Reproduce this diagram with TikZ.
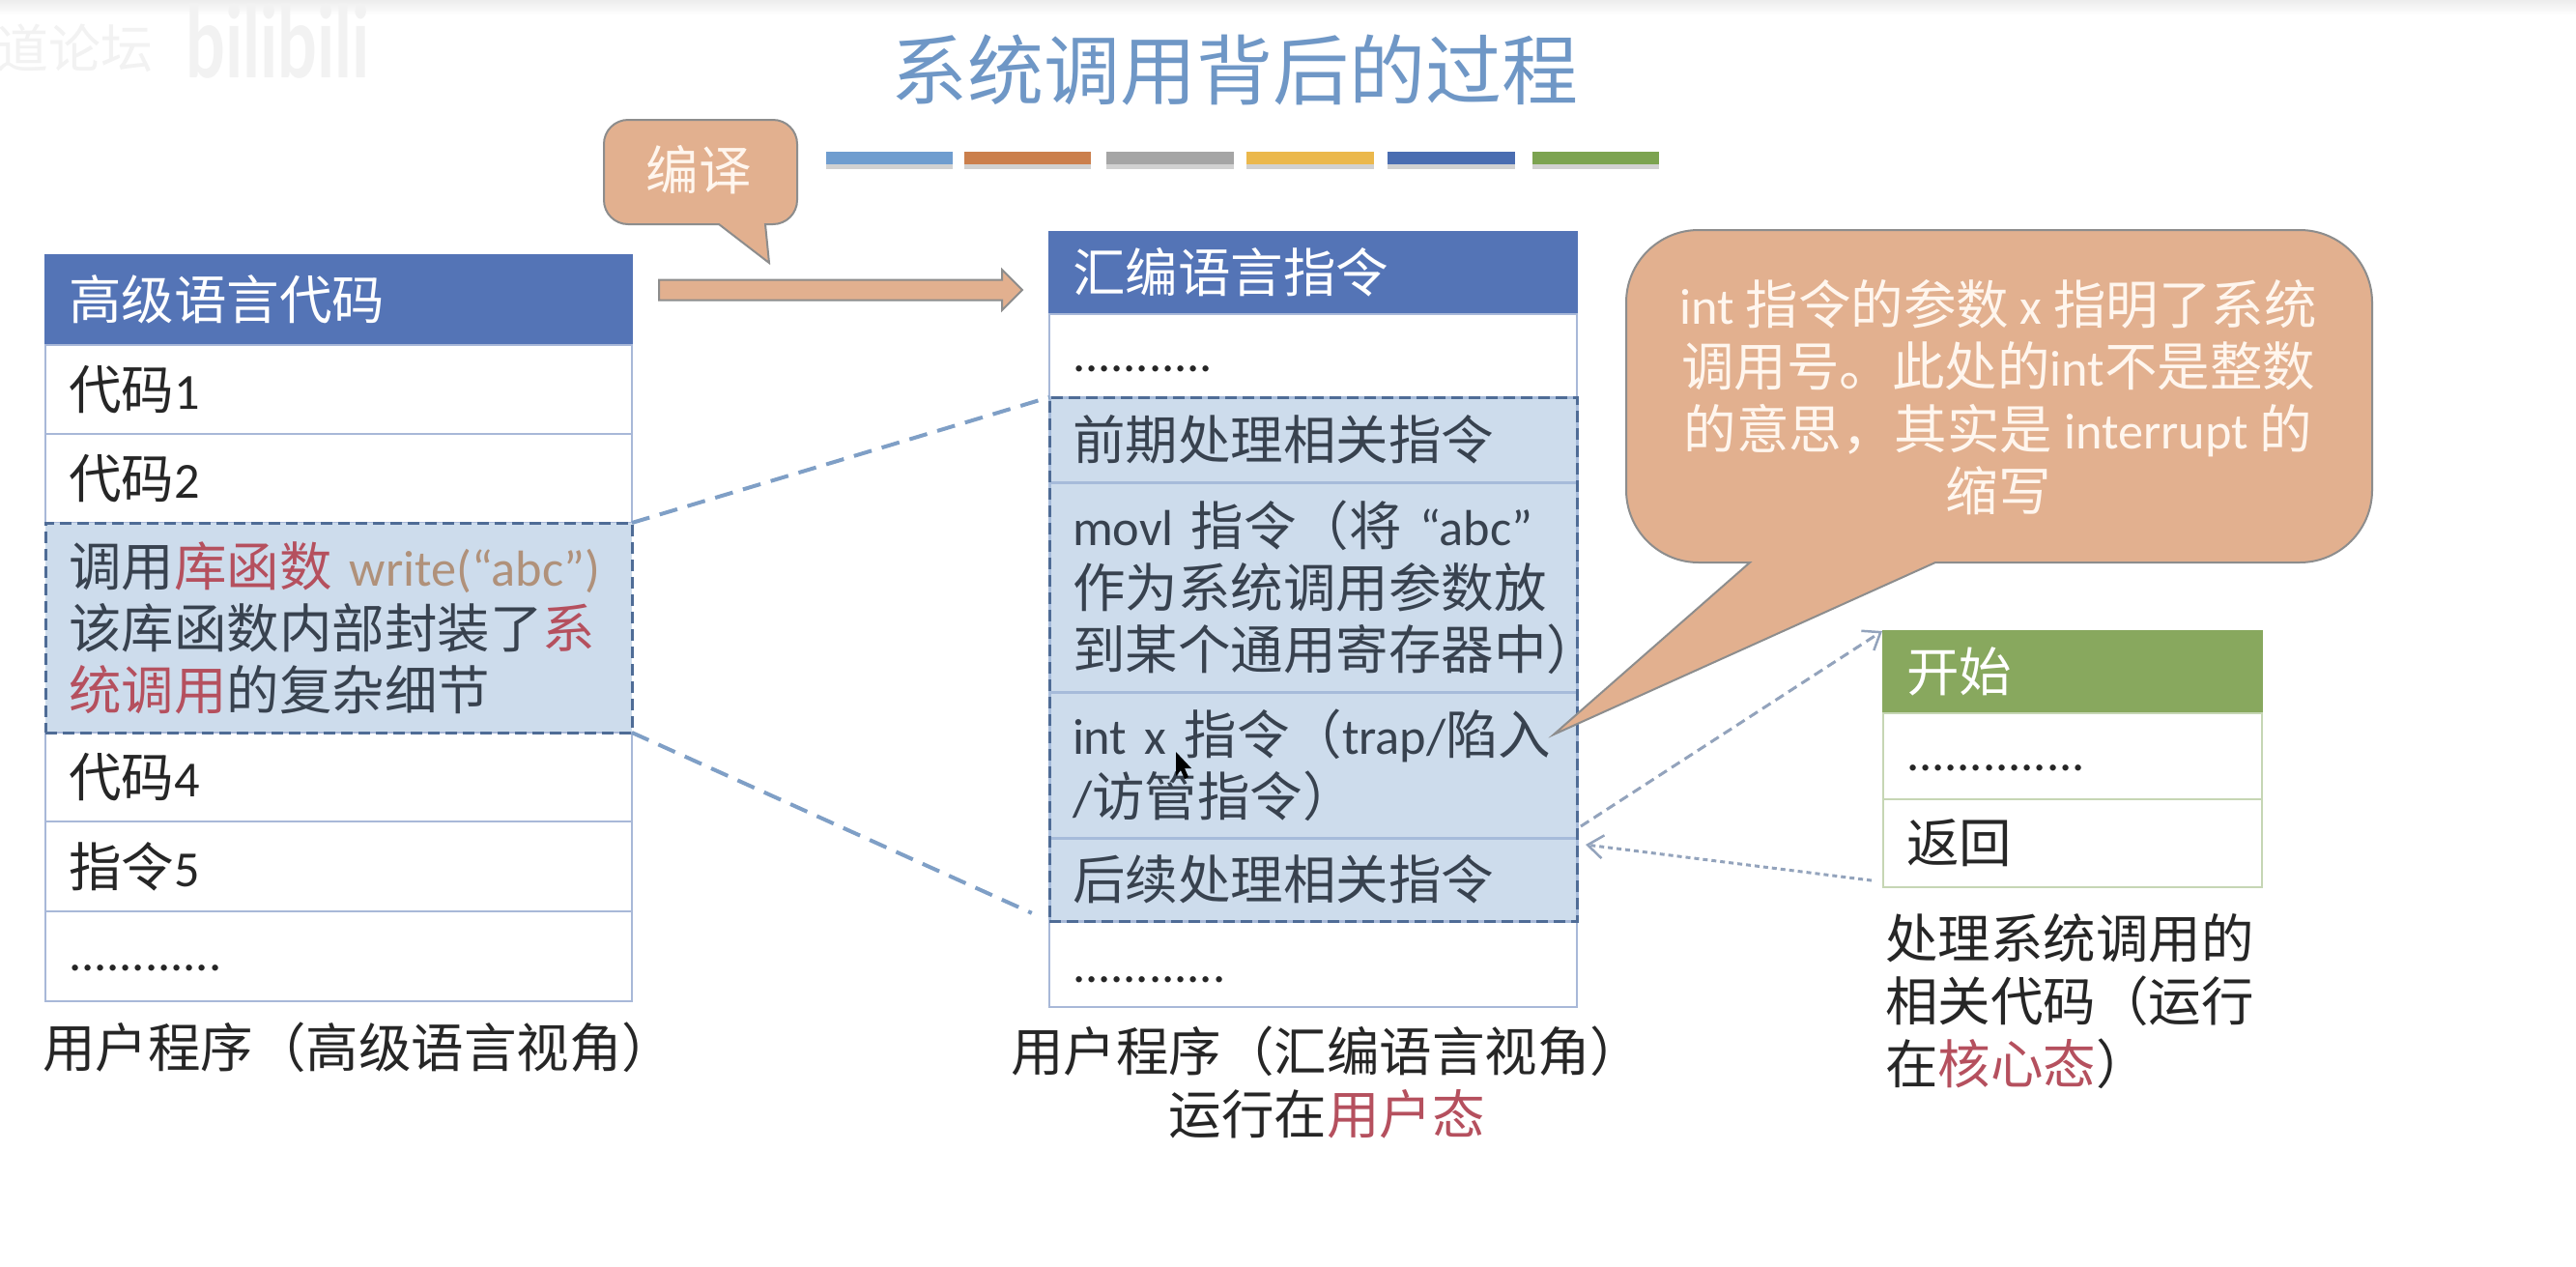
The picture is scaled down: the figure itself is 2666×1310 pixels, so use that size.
\documentclass[tikz,border=0pt]{standalone}
\usepackage{fontspec}
\setmainfont{Noto Sans CJK SC}
\newfontfamily\latfont[Scale=0.96]{Carlito}
\newfontfamily\wmfont{Lato}
\newcommand{\lat}[1]{{\latfont #1}}
\newcommand{\lowdots}[2]{\raisebox{-#1pt}[0pt][0pt]{\lat{#2}}}
\usetikzlibrary{fit,calc,arrows.meta}
\definecolor{hdblue}{HTML}{5474B6}
\definecolor{hdgreen}{HTML}{88A85E}
\definecolor{cellline}{HTML}{A8B8D8}
\definecolor{greenline}{HTML}{C6D6B4}
\definecolor{selfill}{HTML}{CDDCEC}
\definecolor{selline}{HTML}{A6BBDA}
\definecolor{seldash}{HTML}{4F6C96}
\definecolor{linkblue}{HTML}{7F9FC6}
\definecolor{dotgrey}{HTML}{93A3BC}
\definecolor{calfill}{HTML}{E2B08F}
\definecolor{calline}{HTML}{8D8D8D}
\definecolor{titleblue}{HTML}{6F97C6}
\definecolor{txtdark}{HTML}{262626}
\definecolor{seltxt}{HTML}{38424F}
\definecolor{redtxt}{HTML}{B5505E}
\definecolor{tantxt}{HTML}{B0917A}
\definecolor{caltxt}{HTML}{FFF6EE}
\newcommand{\rd}[1]{\textcolor{redtxt}{#1}}
\tikzset{
  base cell/.style={draw,rectangle,outer sep=0pt,inner xsep=24pt,inner ysep=0pt,align=left,
    font=\fontsize{54.5}{64}\selectfont,text=txtdark,line width=2pt},
  lcell/.style={base cell,draw=cellline,minimum width=607pt,text width=559pt},
  mcell/.style={base cell,draw=cellline,minimum width=546pt,text width=498pt},
  rcell/.style={base cell,draw=greenline,minimum width=392pt,text width=344pt},
  bluehd/.style={fill=hdblue,draw=hdblue,text=white},
  greenhd/.style={fill=hdgreen,draw=hdgreen,text=white},
  seltext/.style={fill=selfill,text=seltxt},
  midsel/.style={seltext,draw=selline,line width=3pt},
  seldashed/.style={draw=seldash,line width=3pt,dash pattern=on 12pt off 6pt,inner sep=0pt,outer sep=0pt},
  zoomlink/.style={draw=linkblue,line width=4pt,dash pattern=on 19pt off 11pt},
  calshape/.style={fill=calfill,draw=calline,line width=2pt},
  caltext/.style={font=\fontsize{54.5}{64.5}\selectfont,text=caltxt,align=center,inner sep=0pt},
  dotlink/.style={draw=dotgrey,line width=3pt,-{Straight Barb[length=16pt,width=24pt,line width=2.5pt]}},
  caption/.style={font=\fontsize{54.5}{65}\selectfont,text=txtdark,inner sep=0pt},
  barshadow/.style={fill=black,opacity=.18},
}
\begin{document}
\begin{tikzpicture}[x=1pt,y=-1pt]
\useasboundingbox (0,0) rectangle (2666,1310);
\fill[white] (0,0) rectangle (2666,1310);
\shade[top color=black!7,bottom color=white] (0,0) rectangle (2666,16);
% watermark
\node (wm1) [anchor=west,inner sep=0pt,text=black!5,font=\fontsize{54}{54}\selectfont] at (-4,50) {道论坛};
\node (wm2) [anchor=west,inner sep=0pt,text=black!5,xscale=.8,yscale=1.15,font=\wmfont\bfseries\fontsize{90}{90}\selectfont] at (192,42) {bilibili};
% title
\node (title) [inner sep=0pt,text=titleblue,font=\fontsize{79}{79}\selectfont] at (1278,73) {系统调用背后的过程};
% colour bars
\foreach \a/\b/\c in {855/986/6F9DCF,998/1129/CB7F4C,1145/1277/A5A5A5,1290/1422/EBB84C,1436/1568/4A6DB1,1586/1717/7CA350}{
  \fill[barshadow] (\a,160) rectangle (\b,175);
  \definecolor{barc}{HTML}{\c}
  \fill[barc] (\a,157) rectangle (\b,170);
}
% compile callout
\draw[calshape] (796,272) -- (792,232) [rounded corners=25pt] -- (825,232) -- (825,124) -- (625,124) -- (625,232) [sharp corners] -- (744,232) -- cycle;
\node (compile) [caltext] at (723,176) {编译};
% compile arrow
\coordinate (arrS) at (682,300);
\coordinate (arrE) at (1058,300);
\draw[calshape] ($(arrS)+(0,-10.5)$) -- ($(arrE)+(-21,-10.5)$) -- ($(arrE)+(-21,-21)$) -- (arrE) -- ($(arrE)+(-21,21)$) -- ($(arrE)+(-21,10.5)$) -- ($(arrS)+(0,10.5)$) -- cycle;
% left table
\node (lhead) [lcell,bluehd,minimum height=93pt] at (350.5,310) {高级语言代码};
\node (l1) [lcell,minimum height=92pt] at (350.5,403) {代码\lat{1}};
\node (l2) [lcell,minimum height=92pt] at (350.5,495) {代码\lat{2}};
\node (lbody) [lcell,seltext,draw=none,minimum height=217pt] at (350.5,649.5) {\mbox{调用\rd{库函数}\lat{ \textcolor{tantxt}{write(“abc”)}}}\\\mbox{该库函数内部封装了\rd{系}}\\\mbox{\rd{统调用}的复杂细节}};
\node (l4) [lcell,minimum height=92pt] at (350.5,804) {代码\lat{4}};
\node (l5) [lcell,minimum height=93pt] at (350.5,896.5) {指令\lat{5}};
\node (l6) [lcell,minimum height=93pt] at (350.5,989.5) {\lowdots{14.5}{............}};
\node (lsel) [fit=(lbody),seldashed] {};
\node (lcap) [caption,anchor=west] at (44,1084) {用户程序（高级语言视角）};
% middle table
\node (mhead) [mcell,bluehd,minimum height=85pt] at (1359,282) {汇编语言指令};
\node (m0) [mcell,minimum height=86pt] at (1359,368) {\lowdots{16}{...........}};
\node (m1) [mcell,midsel,minimum height=88pt] at (1359,455) {前期处理相关指令};
\node (m2) [mcell,midsel,minimum height=217pt] at (1359,607.5) {\mbox{\lat{movl }指令（将\lat{ “abc”}}\\\mbox{作为系统调用参数放}\\\mbox{到某个通用寄存器中）}};
\node (m3) [mcell,midsel,minimum height=151pt] at (1359,791.5) {\mbox{\lat{int x }指令（\lat{trap/}陷入}\\\mbox{\lat{/}访管指令）}};
\node (m4) [mcell,midsel,minimum height=86pt] at (1359,910) {后续处理相关指令};
\node (m5) [mcell,minimum height=89pt] at (1359,997.5) {\lowdots{19}{............}};
\node (msel) [fit=(m1)(m4),seldashed] {};
\node (mcap) [caption,align=center] at (1373,1120) {用户程序（汇编语言视角）\\运行在\rd{用户态}};
% zoom links
\draw[zoomlink] (lsel.north east) -- (msel.north west);
\draw[zoomlink,shorten >=20pt] (lsel.south east) -- (msel.south west);
% right table
\node (rhead) [rcell,greenhd,minimum height=85pt] at (2145,695) {开始};
\node (r1) [rcell,minimum height=89pt] at (2145,782.5) {\lowdots{14.5}{..............}};
\node (r2) [rcell,minimum height=91pt] at (2145,872.5) {返回};
\node (rcap) [caption,anchor=north west,align=left] at (1951,945) {处理系统调用的\\相关代码（运行\\在\rd{核心态}）};
% call / return arrows
\coordinate (callS) at (1636,855);
\coordinate (callE) at (1948,653);
\coordinate (retS) at (1937,911);
\coordinate (retE) at (1641,874);
\draw[dotlink,dash pattern=on 10pt off 6pt] (callS) -- (callE);
\draw[dotlink,dash pattern=on 5pt off 4pt] (retS) -- (retE);
% big callout
\draw[calshape] (1608,760) -- (2003,582) [rounded corners=75pt] -- (2455,582) -- (2455,238) -- (1683,238) -- (1683,582) [sharp corners] -- (1811,582) -- cycle;
\node (note) [caltext] at (2068,411) {\lat{int }指令的参数\lat{ x }指明了系统\\调用号。此处的\lat{int}不是整数\\的意思，其实是\lat{ interrupt }的\\缩写};
% mouse pointer
\fill[black] (1217,778) -- (1217,803) -- (1222,797) -- (1226,806) -- (1230,804) -- (1226,795) -- (1233,795) -- cycle;
\end{tikzpicture}
\end{document}
